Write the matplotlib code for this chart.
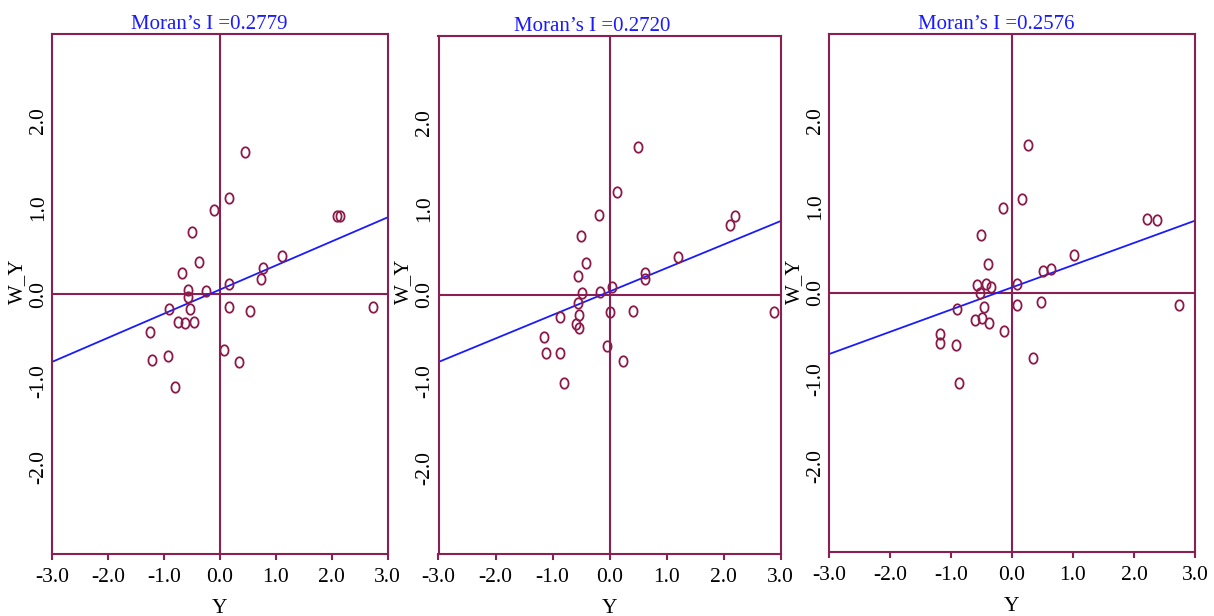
import numpy as np
import matplotlib
matplotlib.use("Agg")
import matplotlib.pyplot as plt
from matplotlib.path import Path

# ---------------- data ----------------
titles = ["Moran\u2019s I =0.2779", "Moran\u2019s I =0.2720", "Moran\u2019s I =0.2576"]
morans_i = [0.2779, 0.2720, 0.2576]
intercepts = [0.05, 0.04, 0.065]

y_1 = [0.46, 0.17, -0.11, 2.10, 2.15, -0.505, -0.38, 1.11, -0.67, 0.77, 0.73, 0.17, -0.56, -0.56, -0.54,
       -0.25, -0.90, 0.17, 0.54, 2.74, -0.74, -0.625, -0.46, -1.24, -1.22, -0.92, 0.07, 0.35, -0.80]
wy_1 = [1.64, 1.11, 0.97, 0.90, 0.90, 0.71, 0.37, 0.44, 0.24, 0.30, 0.17, 0.11, 0.05, -0.03, -0.17,
        0.03, -0.17, -0.15, -0.20, -0.15, -0.32, -0.34, -0.32, -0.44, -0.76, -0.72, -0.65, -0.78, -1.07]

y_2 = [0.50, 0.13, -0.19, 2.21, 2.12, -0.50, -0.41, 1.21, -0.56, 0.63, 0.63, -0.48, -0.17, 0.04, -0.56,
       -0.54, -0.58, -0.53, -0.87, 0.01, 0.42, 2.88, -1.15, -1.12, -0.87, -0.04, 0.24, -0.80]
wy_2 = [1.71, 1.19, 0.93, 0.92, 0.81, 0.68, 0.37, 0.44, 0.22, 0.25, 0.18, 0.02, 0.04, 0.09, -0.09,
        -0.23, -0.34, -0.38, -0.26, -0.20, -0.18, -0.20, -0.49, -0.67, -0.67, -0.59, -0.76, -1.02]

y_3 = [0.26, 0.16, -0.15, 2.21, 2.37, -0.51, -0.40, 1.01, 0.51, 0.64, -0.58, -0.42, -0.34, -0.52, 0.09,
       0.075, 0.47, 2.74, -0.90, -0.46, -0.60, -0.49, -0.37, -0.13, -1.18, -1.18, -0.92, 0.35, -0.87]
wy_3 = [1.71, 1.09, 0.99, 0.86, 0.84, 0.67, 0.34, 0.44, 0.26, 0.28, 0.09, 0.11, 0.07, 0.00, 0.11,
        -0.14, -0.10, -0.14, -0.19, -0.16, -0.31, -0.29, -0.35, -0.44, -0.47, -0.58, -0.60, -0.75, -1.04]

xs = [y_1, y_2, y_3]
ys = [wy_1, wy_2, wy_3]

x_ticks = [-3.0, -2.0, -1.0, 0.0, 1.0, 2.0, 3.0]
y_ticks = [-2.0, -1.0, 0.0, 1.0, 2.0]
x_label = "Y"
y_label = "W_Y"

# ---------------- style ----------------
plt.rcParams['font.family'] = ['Liberation Serif', 'DejaVu Serif']
MAROON = '#8a1f52'
MARK = '#8b1a4a'
BLUE = '#1a1aff'

W, H = 1214, 616
fig = plt.figure(figsize=(W / 100, H / 100), dpi=100)

# axes boxes in pixel coordinates (left, top, right, bottom)
boxes = [(52, 34, 387.5, 554), (438.5, 36, 780.5, 554), (829, 34, 1195, 552)]
title_x = [0.470, 0.449, 0.456]

# elliptical open marker (slightly taller than wide)
t = np.linspace(0, 2 * np.pi, 60)
ell = Path(np.column_stack([0.78 * np.cos(t), np.sin(t)]), closed=True)

for i, (l, tp, r, b) in enumerate(boxes):
    ax = fig.add_axes([l / W, 1 - b / H, (r - l) / W, (b - tp) / H])
    ax.set_xlim(-3, 3)
    ax.set_ylim(-3, 3)
    for s in ax.spines.values():
        s.set_color(MAROON)
        s.set_linewidth(1.5)
    ax.axhline(0, color=MAROON, lw=1.5, zorder=1)
    ax.axvline(0, color=MAROON, lw=1.5, zorder=1)

    lx = np.array([-3.0, 3.0])
    ax.plot(lx, morans_i[i] * lx + intercepts[i], color=BLUE, lw=1.3, zorder=2)

    ax.plot(xs[i], ys[i], linestyle='none', marker=ell, markersize=7.5,
            markerfacecolor='none', markeredgecolor=MARK, markeredgewidth=1.3, zorder=3)

    ax.set_xticks(x_ticks)
    ax.set_xticklabels([f"{v:.1f}" for v in x_ticks])
    ax.set_yticks(y_ticks)
    ax.set_yticklabels([f"{v:.1f}" for v in y_ticks])
    ax.tick_params(axis='x', direction='out', length=4.3, width=1.5, color=MAROON,
                   labelsize=15.5, pad=5.5)
    ax.tick_params(axis='y', length=0, labelsize=15.5, pad=3)
    for lab in ax.get_yticklabels():
        lab.set_rotation(90)
        lab.set_va('center')

    hpx = b - tp
    wpx = r - l
    ax.set_xlabel(x_label, fontsize=15.5)
    ax.xaxis.set_label_coords(0.5, -(599 - 554) / hpx)
    ax.set_ylabel(y_label, fontsize=15)
    ax.yaxis.set_label_coords(-25 / wpx, (b - 281) / hpx)

    ax.text(title_x[i], 1 + 5 / hpx, titles[i], transform=ax.transAxes,
            ha='center', va='baseline', color=BLUE, fontsize=15)

fig.savefig("out.png", dpi=100)
